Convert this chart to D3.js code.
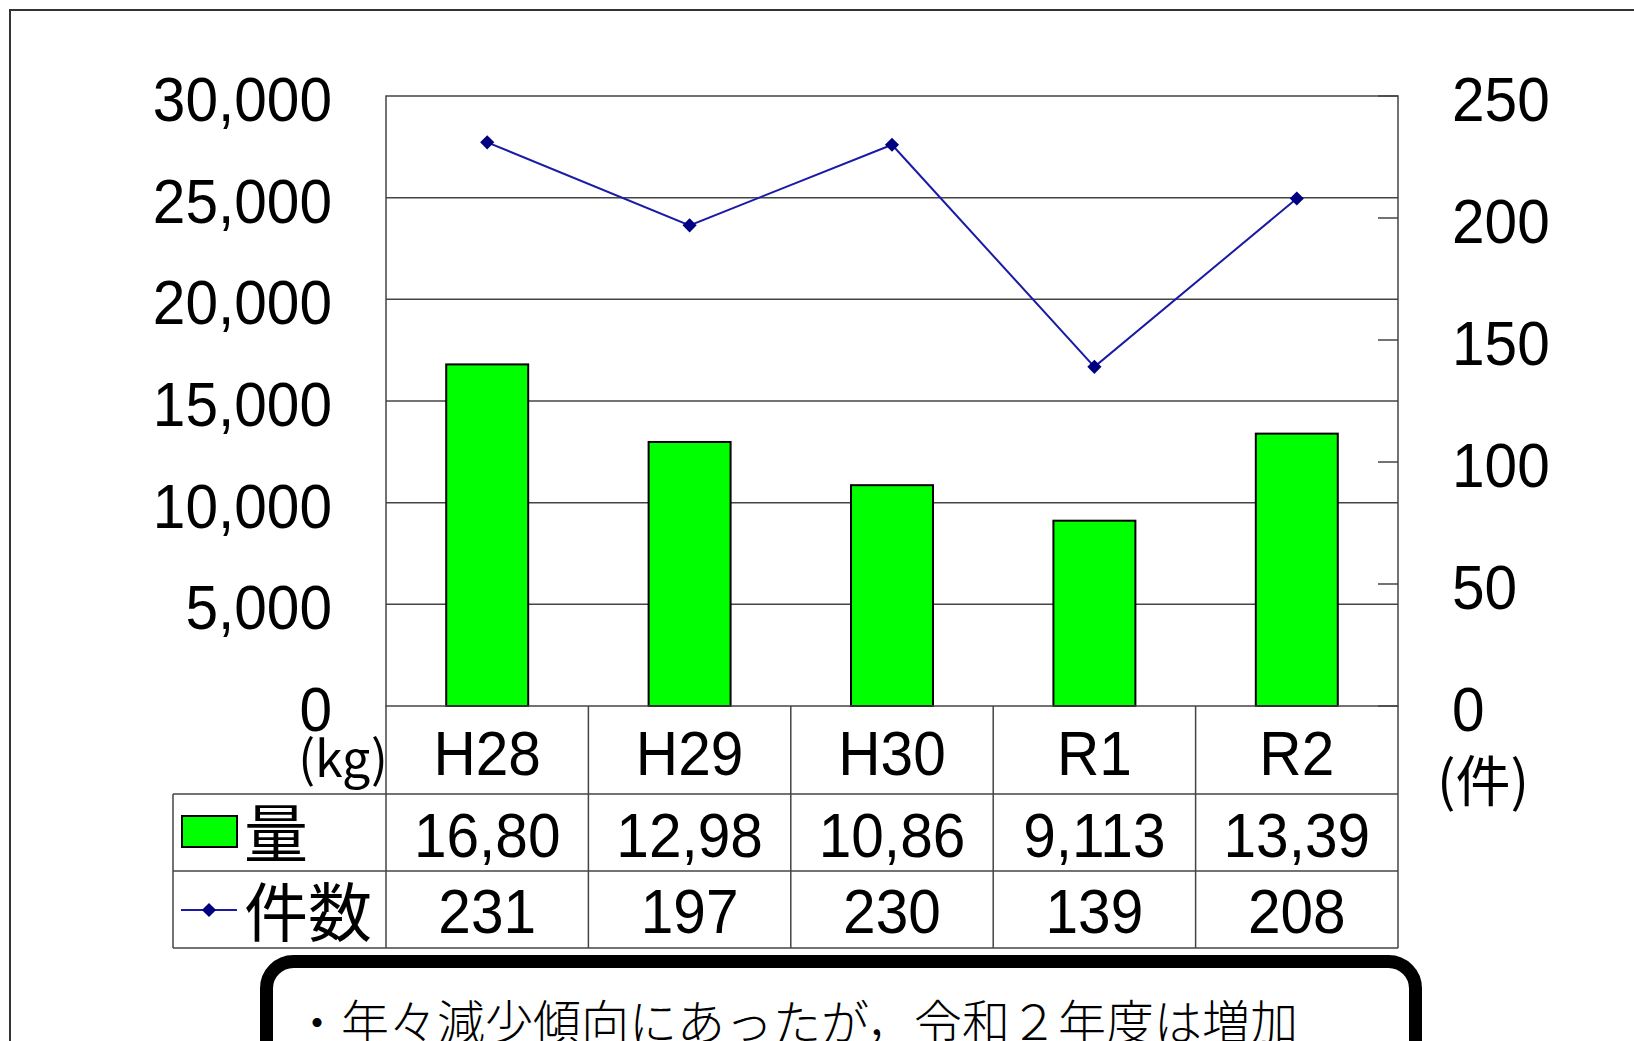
<!DOCTYPE html>
<html>
<head>
<meta charset="utf-8">
<script src="https://cdn.jsdelivr.net/npm/d3@7"></script>
<style>
  html, body { margin: 0; padding: 0; background: #fff; }
  svg { display: block; }
  .num { font-family: "Liberation Sans", Arial, sans-serif; fill: #000; }
  .cjk { font-family: "Noto Sans CJK JP", "Noto Sans", sans-serif; fill: #000; }
</style>
</head>
<body>
<script>
// ---- data ----
const categories = ["H28", "H29", "H30", "R1", "R2"];
const amountKg = [16800, 12985, 10860, 9113, 13395];
const amountLabels = ["16,80", "12,98", "10,86", "9,113", "13,39"];
const counts = [231, 197, 230, 139, 208];
const leftTicks = [0, 5000, 10000, 15000, 20000, 25000, 30000];
const rightTicks = [0, 50, 100, 150, 200, 250];
const seriesNames = ["量", "件数"];
const note = "・年々減少傾向にあったが，令和２年度は増加";

// ---- layout ----
const W = 1634, H = 1041;
const plot = { left: 386, right: 1398, top: 96, bottom: 706 };
const rowY = [706, 794, 871, 948];
const tableLeft = 173;
const SX = 0.93;

const svg = d3.select("body").append("svg").attr("width", W).attr("height", H);

// outer frame
svg.append("rect").attr("x", 10).attr("y", 10).attr("width", W + 20).attr("height", H + 20)
  .attr("fill", "none").attr("stroke", "#333").attr("stroke-width", 2);

const x = d3.scaleBand().domain(categories).range([plot.left, plot.right])
  .paddingInner(0.595).paddingOuter(0.2975);
const xCell = d3.scaleBand().domain(categories).range([plot.left, plot.right]);
const yL = d3.scaleLinear().domain([0, 30000]).range([plot.bottom, plot.top]);
const yR = d3.scaleLinear().domain([0, 250]).range([plot.bottom, plot.top]);

function txt(parent, tx, ty, s, size, anchor, cls, sx) {
  return parent.append("text")
    .attr("class", cls)
    .attr("transform", `translate(${tx},${ty}) scale(${sx},1)`)
    .attr("text-anchor", anchor)
    .style("font-size", size + "px")
    .text(s);
}

// gridlines
svg.append("g").selectAll("line").data(leftTicks.filter(v => v > 0 && v < 30000)).join("line")
  .attr("x1", plot.left).attr("x2", plot.right)
  .attr("y1", d => yL(d)).attr("y2", d => yL(d))
  .attr("stroke", "#444").attr("stroke-width", 1.5);

// right ticks (inside)
svg.append("g").selectAll("line").data(rightTicks).join("line")
  .attr("x1", plot.right - 20).attr("x2", plot.right)
  .attr("y1", d => yR(d)).attr("y2", d => yR(d))
  .attr("stroke", "#444").attr("stroke-width", 1.5);

// bars
svg.append("g").selectAll("rect").data(categories).join("rect")
  .attr("x", d => x(d))
  .attr("y", (d, i) => yL(amountKg[i]))
  .attr("width", x.bandwidth())
  .attr("height", (d, i) => yL(0) - yL(amountKg[i]))
  .attr("fill", "#00ff00").attr("stroke", "#000").attr("stroke-width", 2);

// plot frame
svg.append("rect").attr("x", plot.left).attr("y", plot.top)
  .attr("width", plot.right - plot.left).attr("height", plot.bottom - plot.top)
  .attr("fill", "none").attr("stroke", "#444").attr("stroke-width", 1.5);

// line series
const cx = d => x(d) + x.bandwidth() / 2;
const line = d3.line().x(d => cx(d.c)).y(d => yR(d.v));
const pts = categories.map((c, i) => ({ c, v: counts[i] }));
svg.append("path").datum(pts).attr("d", line)
  .attr("fill", "none").attr("stroke", "#1a1aa6").attr("stroke-width", 2);
const diamond = d3.symbol().type(d3.symbolSquare).size(100);
svg.append("g").selectAll("path").data(pts).join("path")
  .attr("d", diamond)
  .attr("transform", d => `translate(${cx(d.c)},${yR(d.v)}) rotate(45)`)
  .attr("fill", "#000080");

// left axis labels
const fmt = d3.format(",");
const gl = svg.append("g");
leftTicks.forEach(v => txt(gl, 332, yL(v) + 25, fmt(v), 63, "end", "num", SX));
// right axis labels
const gr = svg.append("g");
rightTicks.forEach(v => txt(gr, 1452, yR(v) + 25, String(v), 63, "start", "num", SX));

// unit labels
txt(svg, 388, 777, "(kg)", 50, "end", "cjk", 1);
txt(svg, 1437, 801, "(件)", 55, "start", "cjk", 1);

// data table lines
const tg = svg.append("g").attr("stroke", "#444").attr("stroke-width", 1.5);
[rowY[1], rowY[2], rowY[3]].forEach(yy =>
  tg.append("line").attr("x1", tableLeft).attr("x2", plot.right).attr("y1", yy).attr("y2", yy));
tg.append("line").attr("x1", tableLeft).attr("x2", tableLeft).attr("y1", rowY[1]).attr("y2", rowY[3]);
categories.forEach(c => tg.append("line").attr("x1", xCell(c)).attr("x2", xCell(c))
  .attr("y1", rowY[0]).attr("y2", rowY[3]));
tg.append("line").attr("x1", plot.right).attr("x2", plot.right).attr("y1", rowY[0]).attr("y2", rowY[3]);

// table text
const tt = svg.append("g");
categories.forEach((c, i) => {
  const mx = xCell(c) + xCell.bandwidth() / 2;
  txt(tt, mx, 775, c, 63, "middle", "num", SX);
  txt(tt, mx, 857, amountLabels[i], 63, "middle", "num", SX);
  txt(tt, mx, 933, String(counts[i]), 63, "middle", "num", SX);
});

// legend keys
svg.append("rect").attr("x", 182).attr("y", 816).attr("width", 55).attr("height", 31)
  .attr("fill", "#00ff00").attr("stroke", "#000").attr("stroke-width", 2);
svg.append("line").attr("x1", 181).attr("x2", 237).attr("y1", 910).attr("y2", 910)
  .attr("stroke", "#1a1aa6").attr("stroke-width", 2);
svg.append("path").attr("d", diamond).attr("transform", "translate(209,910) rotate(45)")
  .attr("fill", "#000080");
txt(svg, 244, 857, seriesNames[0], 64, "start", "cjk", 1);
txt(svg, 244, 936, seriesNames[1], 64, "start", "cjk", 1);

// note box
svg.append("rect").attr("x", 266.5).attr("y", 961.5).attr("width", 1149).attr("height", 200)
  .attr("rx", 27).attr("ry", 27)
  .attr("fill", "#fff").attr("stroke", "#000").attr("stroke-width", 13);
svg.append("text").attr("class", "cjk").attr("x", 293).attr("y", 1040)
  .style("font-size", "48px").style("font-weight", 300).text(note);
</script>
</body>
</html>
